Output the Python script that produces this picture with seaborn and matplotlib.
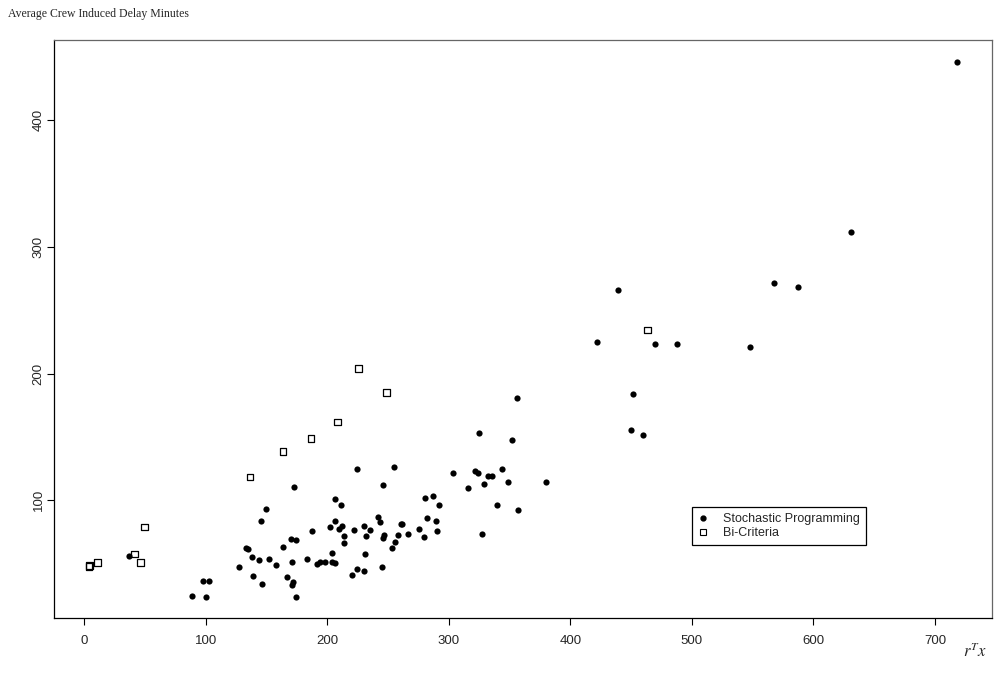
import matplotlib
matplotlib.use("Agg")
import matplotlib.pyplot as plt
from matplotlib.lines import Line2D
import seaborn as sns
import pandas as pd

# stochastic programming solutions (r^T x, average crew induced delay)
sp_x = [36.8, 89.0, 98.0, 102.7, 99.9, 127.7, 133.2, 134.5, 137.8, 139.0,
        143.9, 145.2, 146.4, 149.6, 152.1, 157.6, 163.4, 167.0, 170.0, 171.1,
        171.3, 171.9, 172.7, 174.0, 174.6, 183.1, 187.6, 191.7, 193.6, 198.0,
        201.8, 203.7, 203.7, 206.5, 206.5, 206.5, 210.0, 211.2, 212.0, 213.9,
        213.9, 220.5, 222.1, 224.3, 224.3, 229.8, 230.4, 231.2, 232.0, 234.8,
        241.6, 243.0, 245.1, 245.5, 246.0, 246.5, 253.1, 254.8, 255.4, 258.1,
        260.3, 261.7, 266.1, 275.1, 279.2, 280.3, 281.7, 286.9, 289.7, 290.2,
        291.9, 303.4, 316.0, 321.8, 324.3, 324.8, 328.7, 332.5, 335.3, 343.7,
        349.0, 352.0, 356.4, 380.3, 340.0, 357.0, 327.0, 422.3, 439.4, 450.3,
        451.6, 459.6, 470.0, 487.6, 548.0, 567.8, 587.3, 631.2, 718.5]
sp_y = [55.9, 24.6, 36.2, 36.2, 23.9, 47.0, 62.4, 61.4, 55.4, 39.9,
        52.8, 83.7, 34.1, 92.7, 53.8, 48.8, 63.2, 39.6, 69.0, 51.4,
        32.8, 35.2, 110.5, 23.9, 68.7, 53.8, 75.8, 49.6, 51.4, 51.4,
        79.0, 58.0, 51.4, 50.6, 83.7, 101.3, 77.2, 96.3, 79.5, 71.7,
        66.4, 41.2, 76.6, 124.7, 45.7, 44.3, 79.8, 57.7, 71.9, 76.6,
        86.4, 82.9, 47.2, 70.3, 112.0, 72.2, 62.0, 126.0, 66.9, 72.2,
        80.9, 81.6, 73.0, 77.4, 71.1, 101.8, 85.8, 103.1, 83.7, 75.8,
        96.3, 121.5, 109.5, 123.0, 121.5, 152.8, 112.9, 119.2, 119.2, 125.0,
        114.7, 147.3, 180.8, 114.7, 96.0, 92.0, 73.0, 224.9, 265.9, 155.2,
        183.6, 151.8, 223.6, 223.6, 221.0, 271.4, 268.5, 311.9, 446.2]

# bi-criteria solutions
bc_x = [3.9, 4.3, 11.0, 41.5, 46.1, 49.4, 136.5, 163.7, 186.7, 208.4, 225.7, 248.5, 463.5]
bc_y = [47.5, 48.5, 50.9, 57.7, 50.9, 79.0, 118.3, 138.6, 148.6, 161.7, 204.0, 185.0, 234.4]

x_ticks = [0, 100, 200, 300, 400, 500, 600, 700]
y_ticks = [100, 200, 300, 400]

sp = pd.DataFrame({"x": sp_x, "y": sp_y})
bc = pd.DataFrame({"x": bc_x, "y": bc_y})

sns.set_style("white")
plt.rcParams["font.family"] = ["Liberation Sans", "DejaVu Sans"]

fig = plt.figure(figsize=(10, 6.79), dpi=100)
ax = fig.add_axes([0.0543, 0.0898, 0.9377, 0.8513])

sns.scatterplot(data=sp, x="x", y="y", ax=ax, marker="o", color="black",
                s=20, linewidth=0, zorder=3)
sns.scatterplot(data=bc, x="x", y="y", ax=ax, marker="s", facecolor="none",
                edgecolor="black", s=22, linewidth=0.9, zorder=3)

# R style 4% padding
ax.set_xlim(-24.7, 747)
ax.set_ylim(7.0, 463.3)
ax.set_xticks(x_ticks)
ax.set_yticks(y_ticks)
ax.set_xlabel("")
ax.set_ylabel("")
ax.tick_params(axis="both", direction="out", length=5, width=0.8,
               color="black", labelsize=9.5, bottom=True, left=True)
ax.tick_params(axis="x", pad=7)
ax.tick_params(axis="y", pad=2)
for lab in ax.get_yticklabels():
    lab.set_rotation(90)
    lab.set_va("center")

for side in ["left", "bottom"]:
    ax.spines[side].set_color("black")
    ax.spines[side].set_linewidth(0.9)
for side in ["top", "right"]:
    ax.spines[side].set_color("#666666")
    ax.spines[side].set_linewidth(0.9)

handles = [
    Line2D([], [], marker="o", color="black", linestyle="none", markersize=3.5),
    Line2D([], [], marker="s", markerfacecolor="none", markeredgecolor="black",
           linestyle="none", markersize=3.8, markeredgewidth=0.8),
]
leg = ax.legend(handles, ["Stochastic Programming", "Bi-Criteria"],
                loc="upper left", bbox_to_anchor=(0.680, 0.192), borderaxespad=0,
                fancybox=False, framealpha=1, edgecolor="black", fontsize=9,
                handlelength=0.8, handletextpad=1.2, labelspacing=0.15,
                borderpad=0.5)
leg.get_frame().set_linewidth(0.9)

fig.text(0.008, 0.979, "Average Crew Induced Delay Minutes", fontsize=8.5,
         family=["Liberation Serif", "DejaVu Serif"], va="center", ha="left")
plt.rcParams["mathtext.fontset"] = "stix"
fig.text(0.975, 0.042, r"$r^{T}x$", fontsize=12, ha="center", va="center")

fig.savefig("out.png", dpi=100)
